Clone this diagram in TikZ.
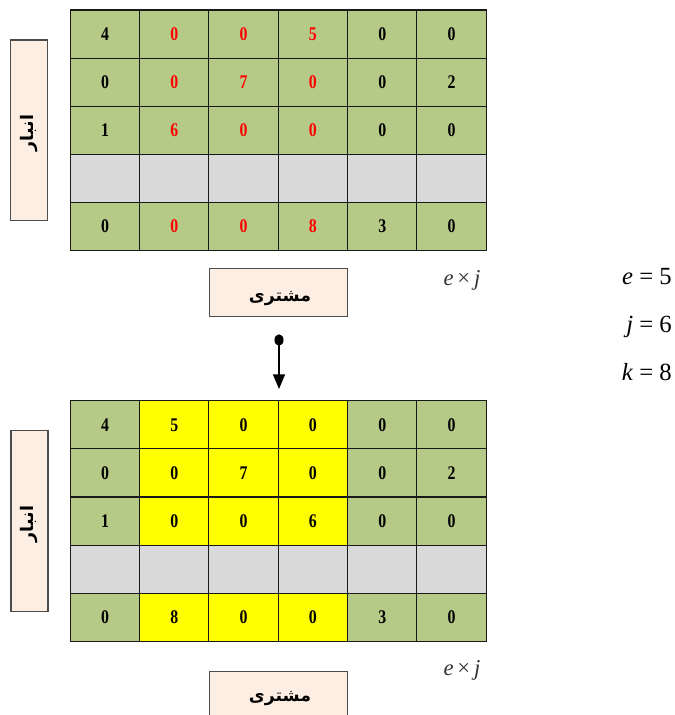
\documentclass[tikz,border=0pt]{standalone}
\usepackage{fontspec}
\setmainfont{Liberation Serif}
\newfontfamily\cellfont{Liberation Serif}[FakeStretch=0.82]
\newfontfamily\fafont[Script=Arabic]{DejaVu Sans}
\TeXXeTstate=1
\usetikzlibrary{arrows.meta}
\definecolor{cgreen}{HTML}{B6CA88}
\definecolor{cgray}{HTML}{D9D9D9}
\definecolor{cpeach}{HTML}{FDEEE4}
\definecolor{cyel}{HTML}{FFFF00}
\definecolor{cred}{HTML}{FF0000}
\begin{document}
\begin{tikzpicture}[x=0.75pt,y=-0.75pt,
 cellbox/.style={draw=black!90, line width=0.8pt, minimum width=52pt, minimum height=36.1pt, inner sep=0pt, font=\cellfont\fontsize{14.5}{17}\selectfont\bfseries},
 sidebox/.style={draw=black!70, line width=0.9pt, fill=cpeach, minimum width=27.75pt, minimum height=135.5pt, inner sep=0pt},
 custbox/.style={draw=black!70, line width=0.9pt, fill=cpeach, minimum width=103.75pt, minimum height=36.25pt, inner sep=0pt},
 fatext/.style={font=\fafont\bfseries\fontsize{13}{15}\selectfont, inner sep=0pt},
 dimtext/.style={font=\fontsize{17}{20}\selectfont, text=black!80},
 eqtext/.style={font=\fontsize{18.5}{21}\selectfont, anchor=base east, inner sep=0pt}]
\clip (0,0) rectangle (675,715);
% ---------- top grid ----------
\foreach \vals [count=\r] in {{4,0,0,5,0,0},{0,0,7,0,0,2},{1,6,0,0,0,0},{},{0,0,0,8,3,0}}{
  \ifnum\r=4
    \foreach \c in {1,...,6}{
      \node[cellbox, fill=cgray] (T-\r-\c) at ({70.3+69.33*(\c-0.5)},{10+48.1*(\r-0.5)}) {};
    }
  \else
    \foreach \v [count=\c] in \vals {
      \ifnum\c>1 \ifnum\c<5 \def\tc{cred}\else\def\tc{black}\fi\else\def\tc{black}\fi
      \node[cellbox, fill=cgreen, text=\tc] (T-\r-\c) at ({70.3+69.33*(\c-0.5)},{10+48.1*(\r-0.5)}) {\v};
    }
  \fi
}
% ---------- bottom grid ----------
\foreach \vals [count=\r] in {{4,5,0,0,0,0},{0,0,7,0,0,2},{1,0,0,6,0,0},{},{0,8,0,0,3,0}}{
  \ifnum\r=4
    \foreach \c in {1,...,6}{
      \node[cellbox, fill=cgray] (B-\r-\c) at ({70.3+69.33*(\c-0.5)},{400.8+48.1*(\r-0.5)}) {};
    }
  \else
    \foreach \v [count=\c] in \vals {
      \ifnum\c>1 \ifnum\c<5 \def\fc{cyel}\else\def\fc{cgreen}\fi\else\def\fc{cgreen}\fi
      \node[cellbox, fill=\fc] (B-\r-\c) at ({70.3+69.33*(\c-0.5)},{400.8+48.1*(\r-0.5)}) {\v};
    }
  \fi
}
% ---------- side boxes ----------
\node[sidebox] (side1) at (29.2,130.4) {};
\node[fatext, rotate=90] (anbar1) at (29.2,133) {\beginR انبار\endR};
\node[sidebox] (side2) at (29.5,521.2) {};
\node[fatext, rotate=90] (anbar2) at (29.5,524) {\beginR انبار\endR};
% ---------- customer boxes ----------
\node[custbox] (cust1) at (278.5,292.5) {};
\node[fatext] (mosh1) at (280,299) {\beginR مشتری\endR};
\node[custbox] (cust2) at (278.7,696) {};
\node[fatext] (mosh2) at (280,699) {\beginR مشتری\endR};
% ---------- dimension labels ----------
\node[dimtext] (ej1) at (462,280) {\textit{e}\,×\,\textit{j}};
\node[dimtext] (ej2) at (462,670) {\textit{e}\,×\,\textit{j}};
% ---------- parameters ----------
\node[eqtext] (eqe) at (672,284) {\textit{e} = 5};
\node[eqtext] (eqj) at (672,332) {\textit{j} = 6};
\node[eqtext] (eqk) at (672,380) {\textit{k} = 8};
% ---------- arrow ----------
\coordinate (dot) at (279,340);
\coordinate (tip) at (279,389);
\fill (dot) ellipse [x radius=3.4pt, y radius=4.3pt];
\draw[line width=1pt, -{Triangle[width=9pt,length=11pt]}] (dot) -- (tip);
\end{tikzpicture}
\end{document}
